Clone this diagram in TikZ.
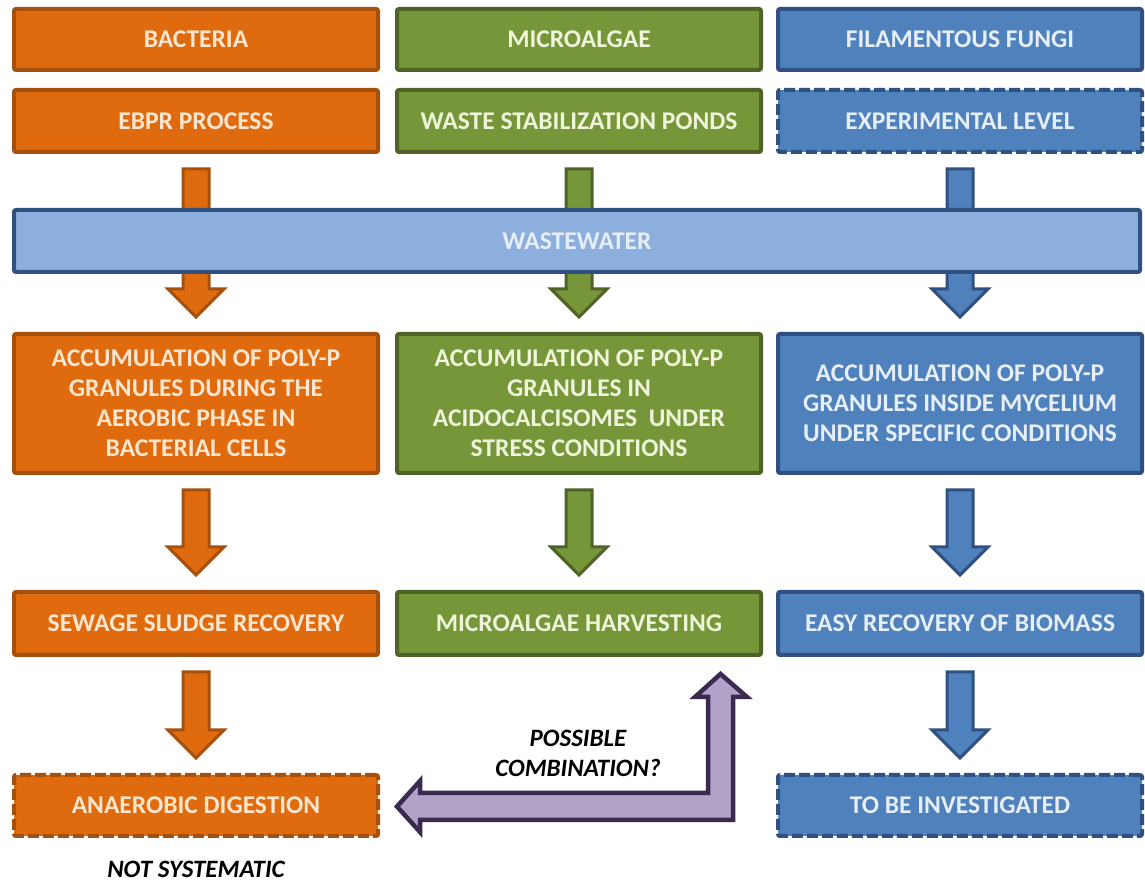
\documentclass[tikz,border=0pt]{standalone}
\usepackage{fontspec}
\setmainfont{Carlito}
\usetikzlibrary{calc}
\definecolor{orfill}{HTML}{E06A0E}
\definecolor{ordraw}{HTML}{A5500C}
\definecolor{ortext}{HTML}{FCE6D0}
\definecolor{grfill}{HTML}{77963A}
\definecolor{grdraw}{HTML}{4F6228}
\definecolor{grtext}{HTML}{EEF5DA}
\definecolor{blfill}{HTML}{4F81BD}
\definecolor{bldraw}{HTML}{2F5080}
\definecolor{bltext}{HTML}{E6EEF8}
\definecolor{bdfill}{HTML}{8CAFDD}
\definecolor{pufill}{HTML}{B3A2C7}
\definecolor{pudraw}{HTML}{3A2A50}
\tikzset{
  cbox/.style={rectangle, rounded corners=2pt, line width=4pt, minimum width=364pt,
    align=center, inner sep=0pt, font=\fontsize{25.5}{30}\selectfont\bfseries},
  ob/.style={fill=orfill, draw=ordraw, text=ortext},
  gb/.style={fill=grfill, draw=grdraw, text=grtext},
  bb/.style={fill=blfill, draw=bldraw, text=bltext},
  dashbox/.style={dash pattern=on 11pt off 4pt},
  oarr/.style={fill=orfill, draw=ordraw, line width=3pt, line join=miter},
  garr/.style={fill=grfill, draw=grdraw, line width=3pt, line join=miter},
  barr/.style={fill=blfill, draw=bldraw, line width=3pt, line join=miter},
  parr/.style={fill=pufill, draw=pudraw, line width=4.5pt, line join=miter},
  note/.style={align=center, inner sep=0pt, text=black, font=\fontsize{25}{30}\selectfont\bfseries\itshape}
}
\newcommand{\blockarr}[3]{%
  \draw[#3] let \p1=($(#1.south)+(0,-15)$), \p2=($(#2.north)+(0,15)$) in
    (\x1-13,\y1) -- (\x1-13,\y2+28) -- (\x1-28,\y2+28) -- (\x1,\y2)
    -- (\x1+28,\y2+28) -- (\x1+13,\y2+28) -- (\x1+13,\y1) -- cycle;}
\begin{document}
\begin{tikzpicture}[x=1pt,y=1pt]
\useasboundingbox (0,0) rectangle (1145,885);
\fill[white] (0,0) rectangle (1145,885);
% row 1
\node[cbox, ob, minimum height=61pt] (bac) at (196,845.5) {BACTERIA};
\node[cbox, gb, minimum height=61pt] (mic) at (579,845.5) {MICROALGAE};
\node[cbox, bb, minimum height=61pt] (fun) at (960,845.5) {FILAMENTOUS FUNGI};
% row 2
\node[cbox, ob, minimum height=62pt] (ebpr) at (196,764) {EBPR PROCESS};
\node[cbox, gb, minimum height=62pt] (wsp) at (579,764) {WASTE STABILIZATION PONDS};
\node[cbox, bb, dashbox, minimum height=62pt] (exp) at (960,764) {EXPERIMENTAL LEVEL};
% row 3
\node[cbox, ob, minimum height=139pt] (acco) at (196,481.5) {ACCUMULATION OF POLY-P\\GRANULES DURING THE\\AEROBIC PHASE IN\\BACTERIAL CELLS};
\node[cbox, gb, minimum height=139pt] (accg) at (579,481.5) {ACCUMULATION OF POLY-P\\GRANULES IN\\ACIDOCALCISOMES~~UNDER\\STRESS CONDITIONS};
\node[cbox, bb, minimum height=139pt] (accb) at (960,481.5) {ACCUMULATION OF POLY-P\\GRANULES INSIDE MYCELIUM\\UNDER SPECIFIC CONDITIONS};
% row 4
\node[cbox, ob, minimum height=63pt] (ssr) at (196,261.5) {SEWAGE SLUDGE RECOVERY};
\node[cbox, gb, minimum height=63pt] (mh) at (579,261.5) {MICROALGAE HARVESTING};
\node[cbox, bb, minimum height=63pt] (erb) at (960,261.5) {EASY RECOVERY OF BIOMASS};
% row 5
\node[cbox, ob, dashbox, minimum height=61pt] (ad) at (196,79.5) {ANAEROBIC DIGESTION};
\node[cbox, bb, dashbox, minimum height=61pt] (tbi) at (960,79.5) {TO BE INVESTIGATED};
% block arrows
\blockarr{ebpr}{acco}{oarr}
\blockarr{wsp}{accg}{garr}
\blockarr{exp}{accb}{barr}
\blockarr{acco}{ssr}{oarr}
\blockarr{accg}{mh}{garr}
\blockarr{accb}{erb}{barr}
\blockarr{ssr}{ad}{oarr}
\blockarr{erb}{tbi}{barr}
% wastewater band (in front of the first arrows)
\node[cbox, fill=bdfill, draw=bldraw, text=bltext, minimum width=1126pt, minimum height=62pt] (ww) at (577,644) {WASTEWATER};
% purple combination arrow
\draw[parr] let \p1=($(ad.east)+(17,-1)$), \p2=($(mh.south)+(141.5,-17)$) in
  (\p1) -- (\x1+23,\y1+25.5) -- (\x1+23,\y1+13.5) -- (\x2-12.5,\y1+13.5)
  -- (\x2-12.5,\y2-23) -- (\x2-25.5,\y2-23) -- (\p2) -- (\x2+26.5,\y2-23)
  -- (\x2+12.5,\y2-23) -- (\x2+12.5,\y1-13.5) -- (\x1+23,\y1-13.5)
  -- (\x1+23,\y1-25.5) -- cycle;
\node[note] (pc) at (578,132) {POSSIBLE\\COMBINATION?};
\node[note] (ns) at (196,16) {NOT SYSTEMATIC};
\end{tikzpicture}
\end{document}
